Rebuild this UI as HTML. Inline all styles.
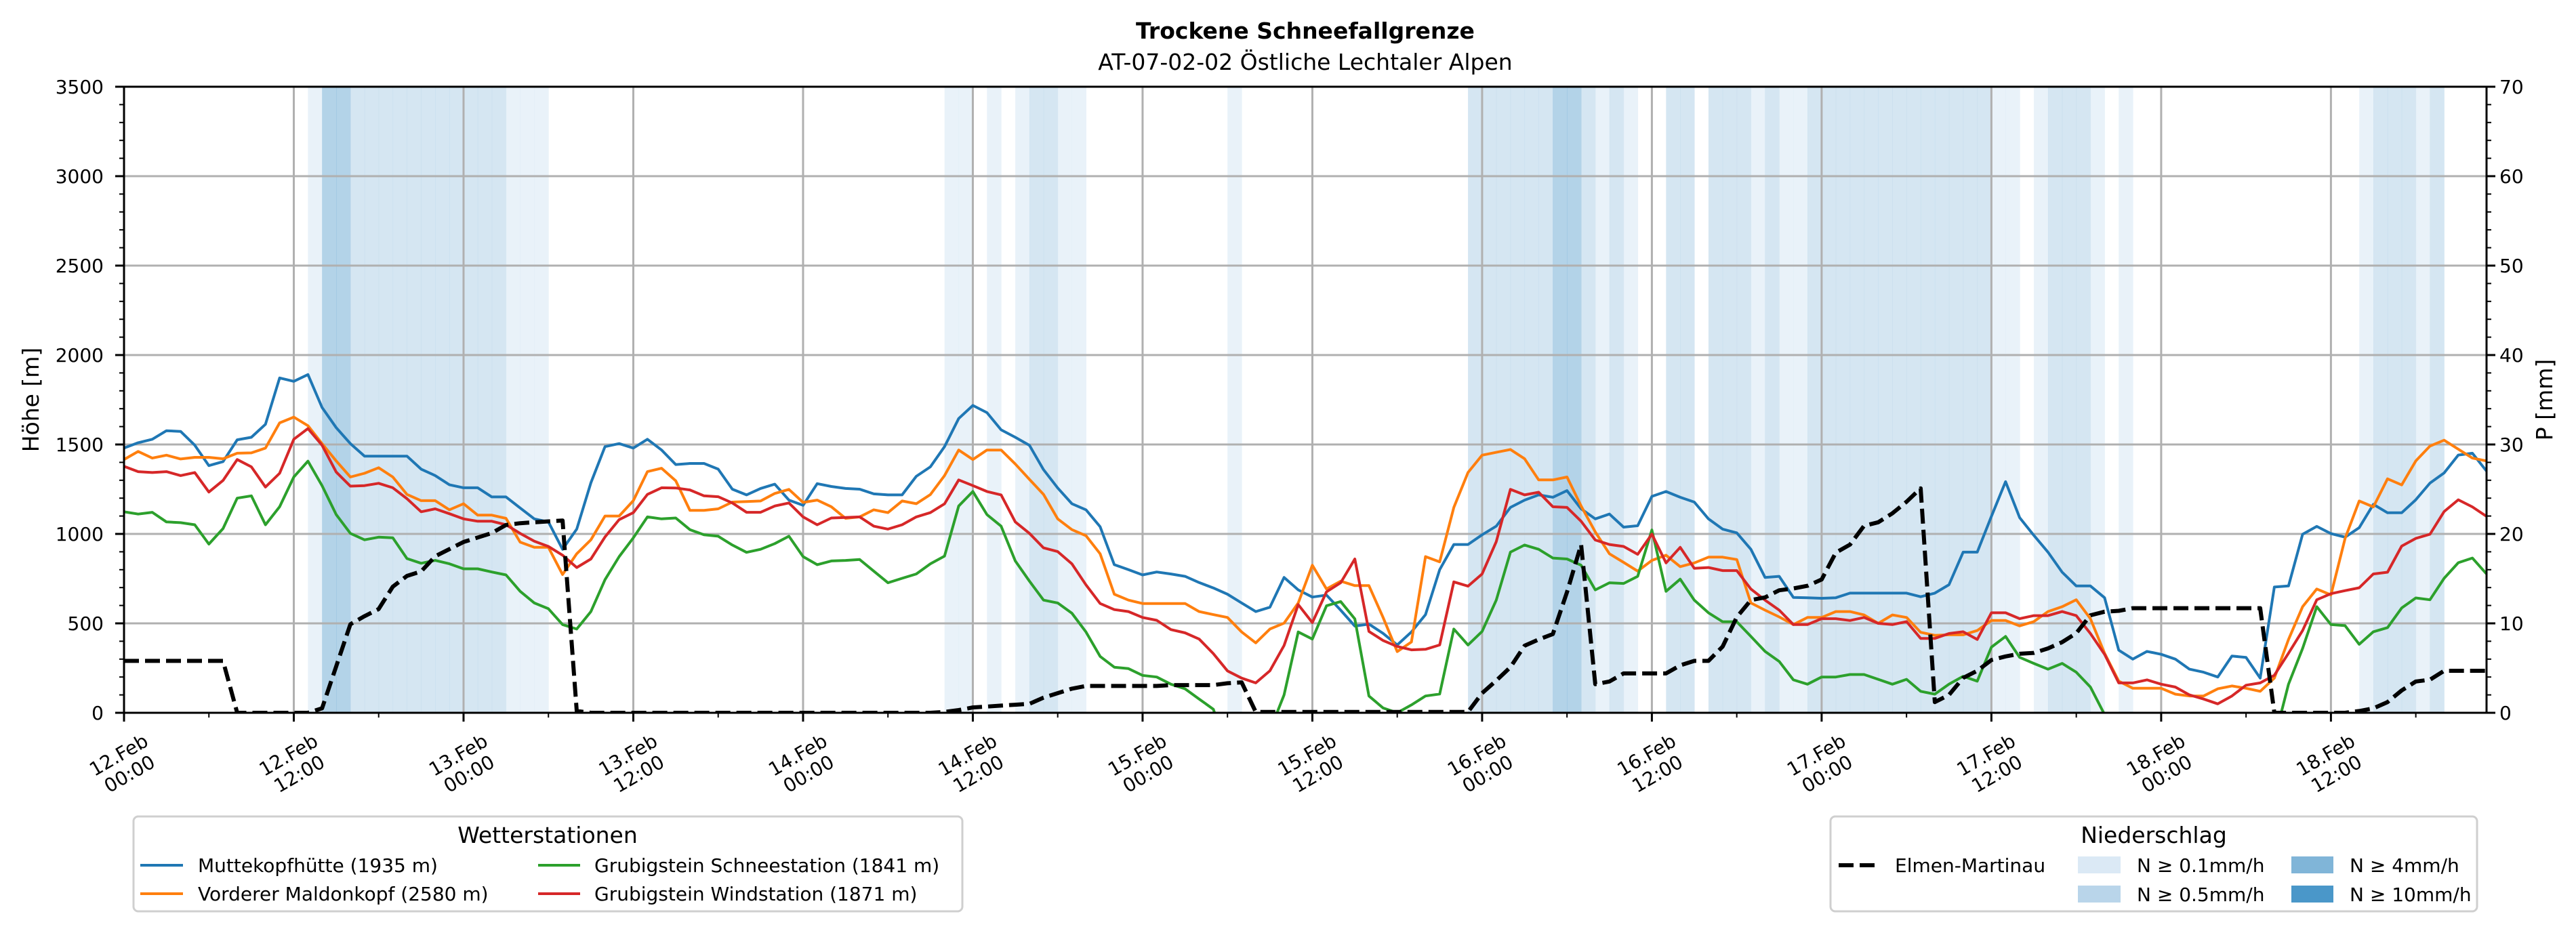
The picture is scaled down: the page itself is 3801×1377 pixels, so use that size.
<!DOCTYPE html>
<html><head><meta charset="utf-8">
<style>
html,body{margin:0;padding:0;background:#fff;}
svg{display:block;font-family:"DejaVu Sans","Liberation Sans",sans-serif;}
</style></head>
<body>
<svg id="chart" xmlns="http://www.w3.org/2000/svg" width="3801" height="1377" viewBox="0 0 3801 1377">
<defs><clipPath id="plotclip"><rect x="183" y="128" width="3486" height="924"/></clipPath></defs>
<rect x="0" y="0" width="3801" height="1377" fill="#fff"/>
<text x="1926" y="57" text-anchor="middle" font-size="33" font-weight="bold">Trockene Schneefallgrenze</text>
<text x="1926" y="103" text-anchor="middle" font-size="33">AT-07-02-02 Östliche Lechtaler Alpen</text>
<g id="bands"></g>
<g id="grid"></g>
<g id="series" clip-path="url(#plotclip)"></g>
<g id="axes"></g>
<text transform="translate(57,590) rotate(-90)" text-anchor="middle" font-size="33">Höhe [m]</text>
<text transform="translate(3766,590) rotate(-90)" text-anchor="middle" font-size="33">P [mm]</text>

<g>
<rect x="197" y="1205" width="1223" height="140" rx="7" fill="#fff" stroke="#cfcfcf" stroke-width="3"/>
<text x="808" y="1244" text-anchor="middle" font-size="33">Wetterstationen</text>
<g><line x1="207" y1="1277" x2="270" y2="1277" stroke="#1f77b4" stroke-width="4"/><text x="292" y="1287" font-size="28">Muttekopfhütte (1935 m)</text></g>
<g><line x1="207" y1="1319" x2="270" y2="1319" stroke="#ff7f0e" stroke-width="4"/><text x="292" y="1329" font-size="28">Vorderer Maldonkopf (2580 m)</text></g>
<g><line x1="794" y1="1277" x2="856" y2="1277" stroke="#2ca02c" stroke-width="4"/><text x="877" y="1287" font-size="28">Grubigstein Schneestation (1841 m)</text></g>
<g><line x1="794" y1="1319" x2="856" y2="1319" stroke="#d62728" stroke-width="4"/><text x="877" y="1329" font-size="28">Grubigstein Windstation (1871 m)</text></g>
</g>

<g>
<rect x="2701" y="1205" width="954" height="140" rx="7" fill="#fff" stroke="#cfcfcf" stroke-width="3"/>
<text x="3178" y="1244" text-anchor="middle" font-size="33">Niederschlag</text>
<g><line x1="2713" y1="1277" x2="2769" y2="1277" stroke="#000" stroke-width="6" stroke-dasharray="22,9"/><text x="2796" y="1287" font-size="28">Elmen-Martinau</text></g>
<g><rect x="3066" y="1264" width="63" height="25" fill="#dbe9f5"/><text x="3153" y="1287" font-size="28">N ≥ 0.1mm/h</text></g>
<g><rect x="3066" y="1307" width="63" height="25" fill="#b9d5ea"/><text x="3153" y="1330" font-size="28">N ≥ 0.5mm/h</text></g>
<g><rect x="3381" y="1264" width="62" height="25" fill="#80b5d8"/><text x="3467" y="1287" font-size="28">N ≥ 4mm/h</text></g>
<g><rect x="3381" y="1307" width="62" height="25" fill="#4a97c9"/><text x="3467" y="1330" font-size="28">N ≥ 10mm/h</text></g>
</g>
</svg>

<script>
const NS = "http://www.w3.org/2000/svg";
const hours = Array.from({length:168},(_, i) => i);
const xTickLabels = ["12.Feb|00:00","12.Feb|12:00","13.Feb|00:00","13.Feb|12:00","14.Feb|00:00","14.Feb|12:00","15.Feb|00:00","15.Feb|12:00","16.Feb|00:00","16.Feb|12:00","17.Feb|00:00","17.Feb|12:00","18.Feb|00:00","18.Feb|12:00"];
const yTicks = [0,500,1000,1500,2000,2500,3000,3500];
const y2Ticks = [0,10,20,30,40,50,60,70];
const muttekopf = [1480,1510,1529,1577,1573,1496,1382,1404,1526,1540,1613,1872,1853,1891,1707,1594,1505,1435,1435,1435,1435,1362,1326,1275,1258,1258,1207,1207,1145,1084,1067,914,1027,1286,1488,1505,1480,1529,1469,1388,1394,1394,1362,1250,1218,1254,1278,1189,1160,1281,1265,1254,1250,1224,1218,1218,1322,1375,1488,1645,1718,1678,1582,1540,1495,1359,1257,1169,1135,1040,828,800,771,787,776,763,728,698,663,614,566,590,757,687,647,658,574,485,496,444,379,452,549,800,941,941,995,1043,1148,1189,1218,1205,1242,1140,1084,1111,1038,1046,1210,1237,1205,1178,1084,1027,1006,914,757,763,645,643,640,643,669,669,669,669,669,649,669,716,898,898,1098,1292,1091,992,898,786,709,709,643,350,300,343,327,300,244,227,200,317,310,194,703,709,998,1042,1002,982,1035,1165,1118,1118,1191,1284,1341,1441,1451,1351];
const maldonkopf = [1416,1461,1424,1440,1419,1428,1428,1420,1451,1453,1480,1621,1653,1605,1505,1408,1318,1339,1370,1318,1221,1186,1186,1135,1169,1105,1105,1087,954,925,925,773,889,967,1100,1100,1186,1348,1367,1297,1132,1132,1140,1178,1181,1184,1226,1249,1176,1189,1152,1087,1095,1135,1119,1184,1169,1220,1326,1469,1416,1469,1469,1391,1305,1221,1084,1024,990,889,663,630,611,611,611,611,566,549,533,452,391,468,501,614,825,692,736,711,711,533,342,396,873,844,1148,1343,1440,1456,1472,1420,1302,1302,1318,1156,1011,889,841,792,852,881,817,838,870,870,857,614,574,536,493,533,533,566,566,547,500,547,533,450,433,436,436,460,516,516,486,510,566,593,632,526,333,177,137,137,137,104,94,94,134,150,137,120,194,410,593,692,659,975,1184,1151,1308,1274,1408,1491,1524,1474,1424,1408];
const schneestation = [1124,1111,1121,1067,1063,1051,943,1030,1200,1213,1051,1152,1318,1407,1270,1108,1003,967,982,978,862,836,852,833,805,805,787,771,679,614,582,493,468,566,744,873,978,1095,1084,1089,1024,995,987,938,897,914,946,987,873,828,849,852,857,792,727,752,776,833,876,1156,1237,1108,1043,849,736,630,614,557,452,315,255,247,209,200,160,134,77,20,-200,-300,-300,-100,100,452,412,598,622,525,94,27,0,44,94,105,468,379,455,630,898,938,914,865,860,825,687,727,723,763,1022,679,747,630,559,509,509,427,343,287,184,160,200,200,214,214,187,160,187,120,104,160,204,177,367,427,310,276,244,276,227,144,-10,-400,-400,-400,-400,-400,-400,-400,-400,-400,-400,-400,-150,160,360,593,493,487,383,453,476,586,642,632,752,839,865,776];
const windstation = [1378,1348,1343,1348,1326,1343,1234,1299,1416,1375,1262,1339,1529,1589,1496,1346,1267,1270,1283,1258,1197,1124,1140,1113,1084,1071,1071,1051,1003,959,930,881,812,860,983,1080,1119,1221,1258,1257,1246,1213,1208,1173,1121,1121,1156,1173,1095,1051,1089,1092,1095,1043,1027,1051,1095,1119,1168,1302,1270,1237,1218,1067,1003,922,901,833,715,611,577,566,533,517,465,447,412,331,234,194,167,235,376,605,504,676,727,860,455,404,371,352,355,379,732,708,776,957,1249,1218,1233,1152,1148,1071,966,941,930,886,999,838,925,808,812,795,795,692,630,574,493,493,526,526,516,533,500,493,510,416,416,443,453,410,559,559,526,543,543,566,543,443,327,167,167,184,160,144,100,77,50,94,154,167,210,333,460,632,666,683,699,776,786,932,975,998,1125,1191,1151,1098];
const elmenMm = [5.8,5.8,5.8,5.8,5.8,5.8,5.8,5.8,0,0,0,0,0,0,0.5,5.2,9.9,10.8,11.6,14.1,15.3,15.8,17.5,18.3,19.1,19.6,20.1,21.0,21.2,21.3,21.4,21.5,0.2,0,0,0,0,0,0,0,0,0,0,0,0,0,0,0,0,0,0,0,0,0,0,0,0,0,0.1,0.3,0.6,0.7,0.8,0.9,1.0,1.7,2.2,2.7,3.0,3.0,3.0,3.0,3.0,3.0,3.1,3.1,3.1,3.1,3.3,3.4,0.1,0.1,0.1,0.1,0.1,0.1,0.1,0.1,0.1,0.1,0.1,0.1,0.1,0.1,0.1,0.1,2.2,3.6,5.1,7.5,8.2,8.8,13.5,18.8,3.2,3.5,4.4,4.4,4.4,4.4,5.3,5.8,5.8,7.4,10.7,12.6,12.9,13.7,13.9,14.2,14.9,17.9,18.8,20.9,21.3,22.3,23.6,25.1,1.2,2.0,3.9,4.7,5.9,6.3,6.6,6.7,7.2,7.9,8.9,10.9,11.3,11.4,11.7,11.7,11.7,11.7,11.7,11.7,11.7,11.7,11.7,11.7,0,0,0,0,0,0,0.2,0.5,1.2,2.5,3.5,3.7,4.7,4.7,4.7,4.7];
const precipHours = [13,14,15,16,17,18,19,20,21,22,23,24,25,26,27,28,29,58,59,61,63,64,65,66,67,78,95,96,97,98,99,100,101,102,103,104,105,106,109,110,112,113,114,115,116,117,118,119,120,121,122,123,124,125,126,127,128,129,130,131,132,133,135,136,137,138,139,141,158,159,160,161,162,163];
const precipRate = [0.3,5,5,2,2,2,2,2,2,2,2,2,2,2,0.3,0.3,0.3,0.3,0.3,0.3,0.3,2,2,0.3,0.3,0.3,2,2,2,2,2,2,5,5,2,0.3,2,0.3,2,2,2,2,2,0.3,2,0.3,0.3,2,2,2,2,2,2,2,2,2,2,2,2,2,0.3,0.3,0.3,2,2,2,0.3,0.3,0.3,2,2,2,0.3,2];

const X0=183, X1=3669, Y0=1052, Y1=128;
function xs(h){ return X0 + h*(X1-X0)/167; }
function ys(v){ return Y0 - v*(Y0-Y1)/3500; }
function yp(mm){ return Y0 - mm*(Y0-Y1)/70; }
function mk(tag, attrs, parent){ const e=document.createElementNS(NS,tag); for(const k in attrs) e.setAttribute(k,attrs[k]); parent.appendChild(e); return e; }

const bands=document.getElementById('bands');
precipHours.forEach((h,i)=>{
  const r=precipRate[i];
  const col = r>=10? '#4a97c9' : r>=4 ? '#80b5d8' : r>=0.5 ? '#b9d5ea' : '#dbe9f5';
  const rc=mk('rect',{x:xs(h),y:Y1,width:xs(h+1)-xs(h)+0.5,height:Y0-Y1,fill:col,'fill-opacity':0.6},bands);
  
  
});

const grid=document.getElementById('grid');
for(let i=1;i<xTickLabels.length;i++){
  const gx=xs(i*12);
  const l=mk('line',{x1:gx,y1:Y1,x2:gx,y2:Y0,stroke:'#b0b0b0','stroke-width':3},grid);
  
  
}
yTicks.forEach(v=>{
  if(v===0) return;
  const l=mk('line',{x1:X0,y1:ys(v),x2:X1,y2:ys(v),stroke:'#b0b0b0','stroke-width':3},grid);
  
  
});

const series=document.getElementById('series');
function poly(vals, fx, col, w, dash, name){
  const pts=vals.map((v,i)=>xs(hours[i]).toFixed(1)+','+fx(v).toFixed(1)).join(' ');
  const p=mk('polyline',{points:pts,fill:'none',stroke:col,'stroke-width':w,'stroke-linejoin':'round'},series);
  if(dash) p.setAttribute('stroke-dasharray',dash);
  
  
}
poly(muttekopf, ys, '#1f77b4', 4, null, 'line-muttekopfhuette');
poly(maldonkopf, ys, '#ff7f0e', 4, null, 'line-maldonkopf');
poly(schneestation, ys, '#2ca02c', 4, null, 'line-schneestation');
poly(windstation, ys, '#d62728', 4, null, 'line-windstation');
poly(elmenMm, yp, '#000', 6, '22,9', 'line-elmen-martinau');

const axes=document.getElementById('axes');
const fr=mk('rect',{x:X0,y:Y1,width:X1-X0,height:Y0-Y1,fill:'none',stroke:'#000','stroke-width':3},axes);


for(let m=0;m<=3500;m+=100){
  const major=m%500===0, len=major?13:7;
  mk('line',{x1:X0-len,y1:ys(m),x2:X0,y2:ys(m),stroke:'#000','stroke-width':major?3:2},axes);
  mk('line',{x1:X1,y1:ys(m),x2:X1+len,y2:ys(m),stroke:'#000','stroke-width':major?3:2},axes);
}
yTicks.forEach(v=>{
  const t=mk('text',{x:153,y:ys(v)+10,'text-anchor':'end','font-size':28},axes);
  t.textContent=v;
  
  
});
y2Ticks.forEach(v=>{
  const t=mk('text',{x:3688,y:yp(v)+10,'text-anchor':'start','font-size':28},axes);
  t.textContent=v;
  
  
});
for(let h=0;h<=167;h+=6){
  const major=h%12===0;
  mk('line',{x1:xs(h),y1:Y0,x2:xs(h),y2:Y0+(major?13:7),stroke:'#000','stroke-width':major?3:2},axes);
}
xTickLabels.forEach((lab,i)=>{
  const parts=lab.split('|');
  const g=mk('g',{transform:'translate('+xs(i*12)+',1128) rotate(-30)'},axes);
  
  
  const t=mk('text',{'text-anchor':'middle','font-size':28},g);
  const a=mk('tspan',{x:0,y:-6},t); a.textContent=parts[0];
  const b=mk('tspan',{x:0,y:26},t); b.textContent=parts[1];
});
</script>
</body></html>
